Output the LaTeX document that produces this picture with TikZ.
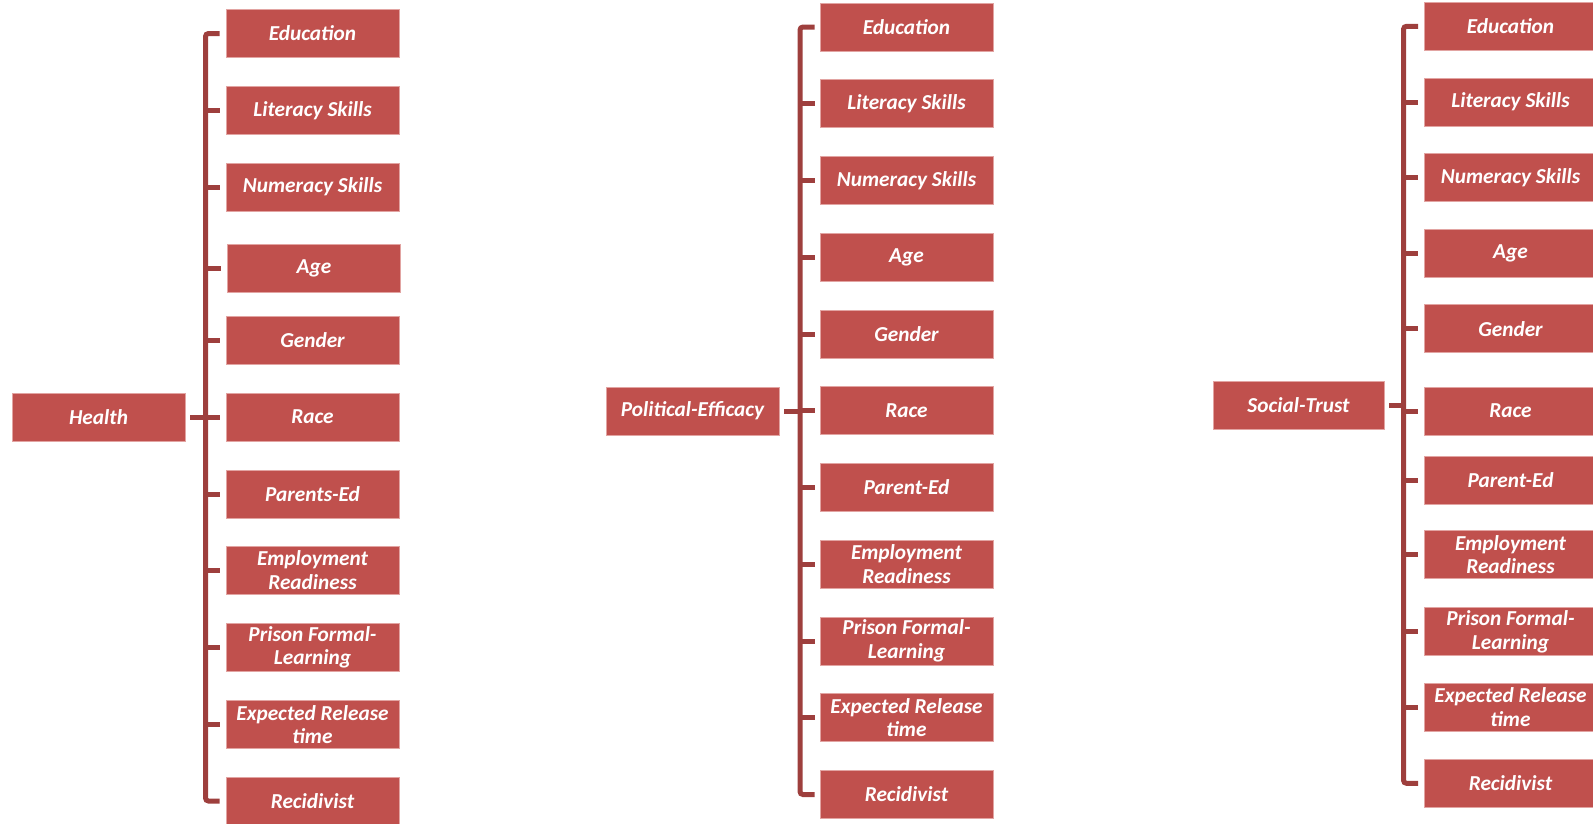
\documentclass[tikz,border=0pt]{standalone}
\usepackage{fontspec}
\setmainfont{Carlito}
\definecolor{boxred}{HTML}{C0504D}
\definecolor{linered}{HTML}{9E3F3D}
\definecolor{boxedge}{HTML}{E2A4A2}
\tikzset{
  item/.style={rectangle, fill=boxred, draw=boxedge, line width=0.6pt,
    minimum width=173pt, minimum height=48pt, inner sep=0pt, text=white,
    font=\fontsize{21.3}{23.5}\selectfont\bfseries\itshape, align=center},
  conn/.style={draw=linered, line width=5pt},
  bracket/.style={conn, rounded corners=3pt}
}
\begin{document}
\begin{tikzpicture}[x=1pt,y=-1pt]
\useasboundingbox (0,0) rectangle (1593,823);
\clip (0,0) rectangle (1593,823);

% ---------- Group 1: Health ----------
\node[item] (h0) at (98.5,417) {Health};
\node[item] (h1) at (312.5,33.5) {Education};
\node[item] (h2) at (312.5,110.2) {Literacy Skills};
\node[item] (h3) at (312.5,187) {Numeracy Skills};
\node[item] (h4) at (314,268.2) {Age};
\node[item] (h5) at (312.5,340.4) {Gender};
\node[item] (h6) at (312.5,417) {Race};
\node[item] (h7) at (312.5,494.3) {Parents-Ed};
\node[item] (h8) at (312.5,570) {Employment\\Readiness};
\node[item] (h9) at (312.5,647.2) {Prison Formal-\\Learning};
\node[item] (h10) at (312.5,724.4) {Expected Release\\time};
\node[item] (h11) at (312.5,801) {Recidivist};
\coordinate (b1) at (205.5,0);
\draw[bracket] ([xshift=-6pt]h1.west) -| (b1 |- h11.west) -- ([xshift=-6pt]h11.west);
\foreach \i in {2,...,10} \draw[conn] (b1 |- h\i.west) -- ([xshift=-6pt]h\i.west);
\draw[conn] ([xshift=5pt]h0.east) -- (b1 |- h0.east);

% ---------- Group 2: Political-Efficacy ----------
\node[item] (p0) at (692.5,411) {Political-Efficacy};
\node[item] (p1) at (906.5,27) {Education};
\node[item] (p2) at (906.5,103.75) {Literacy Skills};
\node[item] (p3) at (906.5,180.5) {Numeracy Skills};
\node[item] (p4) at (906.5,257.25) {Age};
\node[item] (p5) at (906.5,334) {Gender};
\node[item] (p6) at (906.5,410.75) {Race};
\node[item] (p7) at (906.5,487.5) {Parent-Ed};
\node[item] (p8) at (906.5,564.25) {Employment\\Readiness};
\node[item] (p9) at (906.5,641) {Prison Formal-\\Learning};
\node[item] (p10) at (906.5,717.75) {Expected Release\\time};
\node[item] (p11) at (906.5,794.5) {Recidivist};
\coordinate (b2) at (800,0);
\draw[bracket] ([xshift=-5pt]p1.west) -| (b2 |- p11.west) -- ([xshift=-5pt]p11.west);
\foreach \i in {2,...,10} \draw[conn] (b2 |- p\i.west) -- ([xshift=-5pt]p\i.west);
\draw[conn] ([xshift=5pt]p0.east) -- (b2 |- p0.east);

% ---------- Group 3: Social-Trust ----------
\node[item, minimum width=171pt] (s0) at (1298.5,405) {Social-Trust};
\node[item] (s1) at (1510.5,26.3) {Education};
\node[item] (s2) at (1510.5,102) {Literacy Skills};
\node[item] (s3) at (1510.5,177.7) {Numeracy Skills};
\node[item] (s4) at (1510.5,253.5) {Age};
\node[item] (s5) at (1510.5,328.7) {Gender};
\node[item] (s6) at (1510.5,411) {Race};
\node[item] (s7) at (1510.5,480) {Parent-Ed};
\node[item] (s8) at (1510.5,554.7) {Employment\\Readiness};
\node[item] (s9) at (1510.5,631.6) {Prison Formal-\\Learning};
\node[item] (s10) at (1510.5,707.3) {Expected Release\\time};
\node[item] (s11) at (1510.5,783.3) {Recidivist};
\coordinate (b3) at (1403.5,0);
\draw[bracket] ([xshift=-5.5pt]s1.west) -| (b3 |- s11.west) -- ([xshift=-5.5pt]s11.west);
\foreach \i in {2,...,10} \draw[conn] (b3 |- s\i.west) -- ([xshift=-5.5pt]s\i.west);
\draw[conn] ([xshift=5pt]s0.east) -- (b3 |- s0.east);
\end{tikzpicture}
\end{document}
